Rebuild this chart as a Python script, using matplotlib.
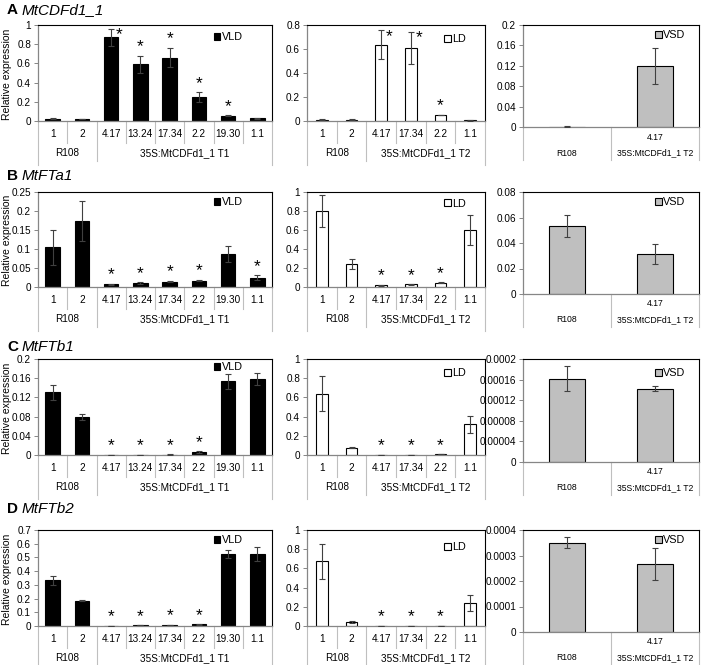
import matplotlib
matplotlib.use('Agg')
import matplotlib.pyplot as plt
from matplotlib.patches import Patch
from matplotlib.transforms import ScaledTranslation
import numpy as np

plt.rcParams['font.family'] = ['Liberation Sans', 'DejaVu Sans']

# ---------------- data ----------------
panel_letters = ['A', 'B', 'C', 'D']
genes = ['MtCDFd1_1', 'MtFTa1', 'MtFTb1', 'MtFTb2']

t1_lines = ['1', '2', '4.17', '13.24', '17.34', '2.2', '19.30', '1.1']
t1_groups = ['R108', '35S:MtCDFd1_1 T1']
t1_group_sizes = [2, 6]
t2_lines = ['1', '2', '4.17', '17.34', '2.2', '1.1']
t2_groups = ['R108', '35S:MtCDFd1_1 T2']
t2_group_sizes = [2, 4]
vsd_lines = ['', '4.17']
vsd_groups = ['R108', '35S:MtCDFd1_1 T2']

# VLD (T1 lines)
vld_mean = [
    [0.025, 0.02, 0.87, 0.59, 0.66, 0.25, 0.055, 0.03],
    [0.105, 0.174, 0.007, 0.0105, 0.014, 0.0166, 0.086, 0.0245],
    [0.1305, 0.0785, 0.0003, 0.0008, 0.001, 0.006, 0.1535, 0.158],
    [0.332, 0.185, 0.002, 0.005, 0.008, 0.012, 0.524, 0.524],
]
vld_err = [
    [0.003, 0.002, 0.085, 0.09, 0.10, 0.05, 0.005, 0.004],
    [0.046, 0.053, 0.001, 0.002, 0.002, 0.002, 0.021, 0.006],
    [0.015, 0.0065, 0.0001, 0.0002, 0.0002, 0.002, 0.016, 0.012],
    [0.033, 0.006, 0.0005, 0.001, 0.001, 0.002, 0.03, 0.05],
]
vld_sig = [
    [0, 0, 1, 1, 1, 1, 1, 0],
    [0, 0, 1, 1, 1, 1, 0, 1],
    [0, 0, 1, 1, 1, 1, 0, 0],
    [0, 0, 1, 1, 1, 1, 0, 0],
]
vld_ymax = [1.0, 0.25, 0.2, 0.7]
vld_ystep = [0.2, 0.05, 0.04, 0.1]

# LD (T2 lines)
ld_mean = [
    [0.01, 0.01, 0.635, 0.61, 0.05, 0.005],
    [0.80, 0.245, 0.02, 0.028, 0.045, 0.60],
    [0.64, 0.076, 0.002, 0.003, 0.008, 0.32],
    [0.672, 0.045, 0.002, 0.002, 0.003, 0.243],
]
ld_err = [
    [0.003, 0.003, 0.12, 0.135, 0.003, 0.001],
    [0.17, 0.055, 0.006, 0.003, 0.004, 0.16],
    [0.18, 0.006, 0.0005, 0.0005, 0.001, 0.09],
    [0.18, 0.01, 0.0005, 0.0005, 0.0005, 0.085],
]
ld_sig = [
    [0, 0, 1, 1, 1, 0],
    [0, 0, 1, 1, 1, 0],
    [0, 0, 1, 1, 1, 0],
    [0, 0, 1, 1, 1, 0],
]
ld_ymax = [0.8, 1.0, 1.0, 1.0]
ld_ystep = [0.2, 0.2, 0.2, 0.2]

# VSD
vsd_mean = [
    [0.0008, 0.119],
    [0.0533, 0.0316],
    [0.000162, 0.000142],
    [0.00035, 0.000267],
]
vsd_err = [
    [0.0002, 0.035],
    [0.0084, 0.008],
    [0.0000245, 0.000005],
    [0.000021, 0.000063],
]
vsd_ymax = [0.2, 0.08, 0.0002, 0.0004]
vsd_ystep = [0.04, 0.02, 0.00004, 0.0001]

# ---------------- layout (pixels) ----------------
W, H = 701, 665
row_top = [25, 192, 359, 530]
row_zero = [121, 287, 455, 626]
vsd_zero = [127, 294, 462, 632]
title_y = [10, 176, 347, 509]
col_x = [(38, 272), (307, 485), (523, 699)]
leg_y = [[0.875, 0.855, 0.9], [0.895, 0.884, 0.9], [0.917, 0.854, 0.863], [0.896, 0.823, 0.9]]

fig = plt.figure(figsize=(W / 100, H / 100), dpi=100)

SEP = '#bfbfbf'
AXC = '#868686'
ERRC = '#404040'
TICK_FS = 7.2


def fmt(v):
    s = ('%.8f' % v).rstrip('0').rstrip('.')
    return s


def make_ax(col, top, zero):
    x0, x1 = col_x[col]
    ax = fig.add_axes([x0 / W, 1 - zero / H, (x1 - x0) / W, (zero - top) / H])
    for s in ['top', 'right']:
        ax.spines[s].set_color('black')
        ax.spines[s].set_linewidth(0.8)
    for s in ['left', 'bottom']:
        ax.spines[s].set_color(AXC)
        ax.spines[s].set_linewidth(0.9)
    ax.tick_params(axis='y', length=3, width=0.7, color=AXC, labelsize=TICK_FS, pad=2)
    ax.set_xticks([])
    return ax


def yaxis(ax, ymax, step):
    n = int(round(ymax / step))
    ticks = np.linspace(0, ymax, n + 1)
    ax.set_ylim(0, ymax)
    ax.set_yticks(ticks)
    ax.set_yticklabels([fmt(t) for t in ticks])


def vline(ax, x, length_px):
    axh = ax.get_position().height * H
    ax.plot([x, x], [0, -length_px / axh], transform=ax.get_xaxis_transform(),
            color=SEP, lw=0.8, clip_on=False)


def cat_axis(ax, lines, groups, sizes):
    n = len(lines)
    ax.set_xlim(-0.5, n - 0.5)
    trans = ax.get_xaxis_transform()
    t1 = trans + ScaledTranslation(0, -13 / 100, fig.dpi_scale_trans)
    t2 = trans + ScaledTranslation(0, -32 / 100, fig.dpi_scale_trans)
    for i, lab in enumerate(lines):
        ax.text(i, 0, lab, transform=t1, ha='center', va='center', fontsize=TICK_FS)
    bounds = np.cumsum(sizes)
    start = 0
    for g, s in zip(groups, sizes):
        ax.text(start + (s - 1) / 2, 0, g, transform=t2, ha='center', va='center', fontsize=TICK_FS)
        start += s
    vline(ax, -0.5, 44)
    for i in range(1, n):
        vline(ax, i - 0.5, 40 if i in bounds else 22)
    vline(ax, n - 0.5, 44)


def bars(ax, mean, err, sig, ymax, face, width):
    x = np.arange(len(mean))
    ax.bar(x, mean, width=width, color=face, edgecolor='black', linewidth=0.8, zorder=2)
    ax.errorbar(x, mean, yerr=err, fmt='none', ecolor=ERRC, elinewidth=0.8,
                capsize=2.5, capthick=0.8, zorder=3)
    if sig is None:
        return
    for xi, m, e, s in zip(x, mean, err, sig):
        if not s:
            continue
        top = m + e
        if top > 0.9 * ymax:
            ax.text(xi + 0.28, top - 0.06 * ymax, '*', ha='center', va='center',
                    fontsize=12.5, zorder=4)
        else:
            ax.text(xi, top + 0.015 * ymax, '*', ha='center', va='bottom',
                    fontsize=12.5, zorder=4)


def legend(ax, label, face, x, y):
    h = Patch(facecolor=face, edgecolor='black', linewidth=0.8, label=label)
    ax.legend(handles=[h], loc='upper right', bbox_to_anchor=(x, y + 0.07),
              frameon=False, fontsize=7.8, handlelength=0.6, handleheight=0.6,
              handletextpad=0.15, borderpad=0.1, borderaxespad=0.1)


for r in range(4):
    top, zero, vz = row_top[r], row_zero[r], vsd_zero[r]
    fig.text(7 / W, 1 - title_y[r] / H, panel_letters[r], fontsize=11, fontweight='bold', va='center')
    fig.text(22 / W, 1 - title_y[r] / H, genes[r], fontsize=11, style='italic', va='center')
    fig.text(7 / W, 1 - ((top + zero) / 2 + 1) / H, 'Relative expression', rotation=90,
             fontsize=7.5, ha='center', va='center')

    # VLD
    ax = make_ax(0, top, zero)
    yaxis(ax, vld_ymax[r], vld_ystep[r])
    bars(ax, vld_mean[r], vld_err[r], vld_sig[r], vld_ymax[r], 'black', 0.5)
    cat_axis(ax, t1_lines, t1_groups, t1_group_sizes)
    legend(ax, 'VLD', 'black', 0.885, leg_y[r][0])

    # LD
    ax = make_ax(1, top, zero)
    yaxis(ax, ld_ymax[r], ld_ystep[r])
    bars(ax, ld_mean[r], ld_err[r], ld_sig[r], ld_ymax[r], 'white', 0.4)
    cat_axis(ax, t2_lines, t2_groups, t2_group_sizes)
    legend(ax, 'LD', 'white', 0.905, leg_y[r][1])

    # VSD
    ax = make_ax(2, top, vz)
    yaxis(ax, vsd_ymax[r], vsd_ystep[r])
    bars(ax, vsd_mean[r], vsd_err[r], None, vsd_ymax[r], '#bfbfbf', 0.42)
    ax.set_xlim(-0.5, 1.5)
    trans = ax.get_xaxis_transform()
    ta = trans + ScaledTranslation(0, -10 / 100, fig.dpi_scale_trans)
    tb = trans + ScaledTranslation(0, -26 / 100, fig.dpi_scale_trans)
    for i in range(2):
        if vsd_lines[i]:
            ax.text(i, 0, vsd_lines[i], transform=ta, ha='center', va='center', fontsize=6.2)
        ax.text(i, 0, vsd_groups[i], transform=tb, ha='center', va='center', fontsize=6.2)
    for xv in [-0.5, 0.5, 1.5]:
        vline(ax, xv, 33)
    legend(ax, 'VSD', '#bfbfbf', 0.935, leg_y[r][2])

fig.savefig('out.png', dpi=100)
